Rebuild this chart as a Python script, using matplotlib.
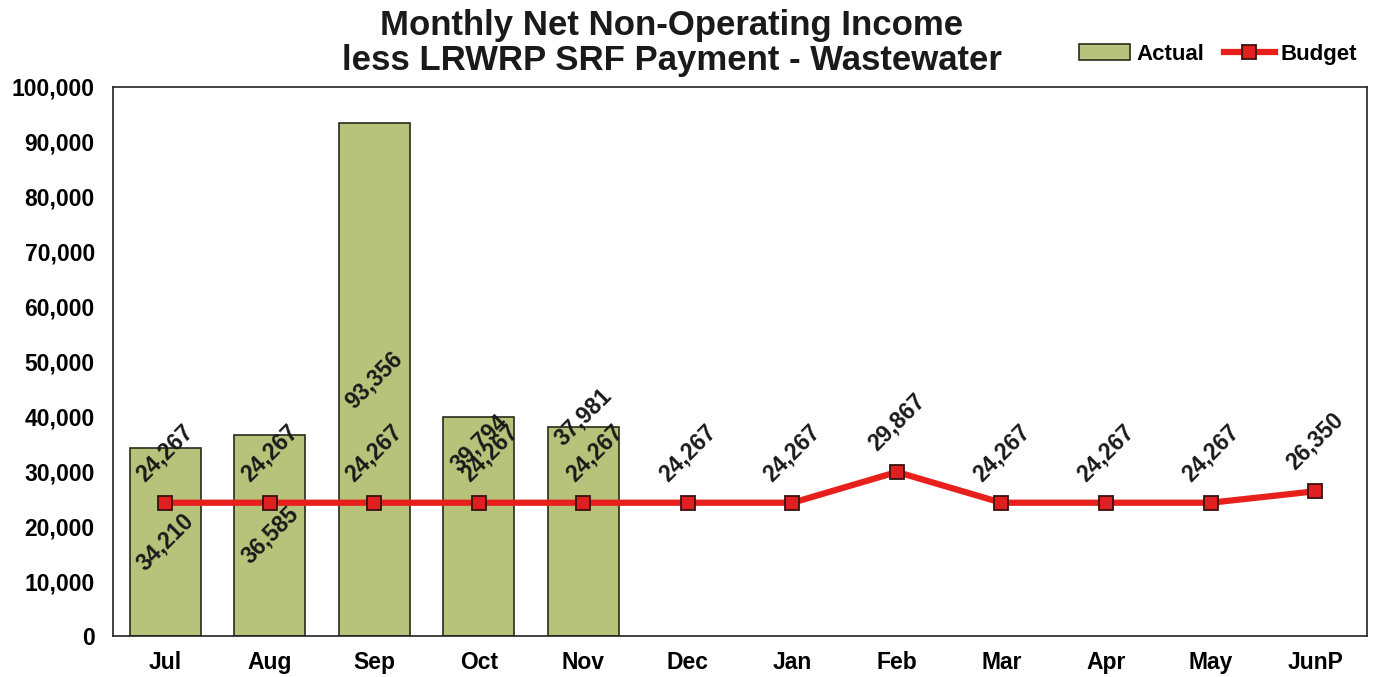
import numpy as np
import matplotlib
matplotlib.use('Agg')
import matplotlib.pyplot as plt
from matplotlib.ticker import FuncFormatter

months = ['Jul', 'Aug', 'Sep', 'Oct', 'Nov', 'Dec', 'Jan', 'Feb', 'Mar', 'Apr', 'May', 'JunP']
actual = [34210, 36585, 93356, 39794, 37981]
budget = [24267, 24267, 24267, 24267, 24267, 24267, 24267, 29867, 24267, 24267, 24267, 26350]

plt.rcParams['font.family'] = ['Liberation Sans', 'DejaVu Sans']

fig = plt.figure(figsize=(13.77, 6.77), dpi=100)
ax = fig.add_axes([0.082, 0.0606, 0.911, 0.811])

x = np.arange(len(months))
bars = ax.bar(x[:len(actual)], actual, width=0.68, color='#b7c27a', edgecolor='#2b2b1a', linewidth=1.2,
              label='Actual', zorder=2)
line, = ax.plot(x, budget, color='#e8201c', lw=4.5, marker='s', ms=10, mfc='#e02020', mec='#3a1010',
                mew=1.3, label='Budget', zorder=3)

fmt = lambda v: '{:,}'.format(v)
# actual labels sit mid-bar, except Oct/Nov which Excel pushed up near the top
for i, v in enumerate(actual):
    y = v / 2
    if i == 3:
        y = v - 4600
    elif i == 4:
        y = v + 1900
    ax.text(x[i], y, fmt(v), rotation=45, ha='center', va='center', fontsize=16.5, fontweight='bold',
            color='#1a1a1a', zorder=5)
for i, v in enumerate(budget):
    dx = 8 if i in (3, 4) else 0
    ax.annotate(fmt(v), (x[i], v), xytext=(dx, 36), textcoords='offset points', rotation=45,
                ha='center', va='center', fontsize=16.5, fontweight='bold', color='#1a1a1a', zorder=5)

ax.set_xlim(-0.5, len(months) - 0.5)
ax.set_ylim(0, 100000)
ax.set_yticks(np.arange(0, 100001, 10000))
ax.yaxis.set_major_formatter(FuncFormatter(lambda v, p: '{:,.0f}'.format(v)))
ax.set_xticks(x)
ax.set_xticklabels(months)
ax.tick_params(length=0, labelsize=16.5)
ax.tick_params(axis='y', pad=13)
ax.tick_params(axis='x', pad=11)
for lab in ax.get_xticklabels() + ax.get_yticklabels():
    lab.set_fontweight('bold')
for s in ax.spines.values():
    s.set_color('#222222')
    s.set_linewidth(1.2)

fig.text(0.488, 0.987, 'Monthly Net Non-Operating Income\nless LRWRP SRF Payment - Wastewater',
         ha='center', va='top', fontsize=25, fontweight='bold', linespacing=1.1, color='#1a1a1a')
fig.legend([bars, line], ['Actual', 'Budget'], loc='upper right', bbox_to_anchor=(1.0, 0.965), ncol=2,
           frameon=False, prop={'size': 16, 'weight': 'bold'},
           handlelength=2.3, columnspacing=0.9, handletextpad=0.25)

plt.savefig('out.png', dpi=100)
